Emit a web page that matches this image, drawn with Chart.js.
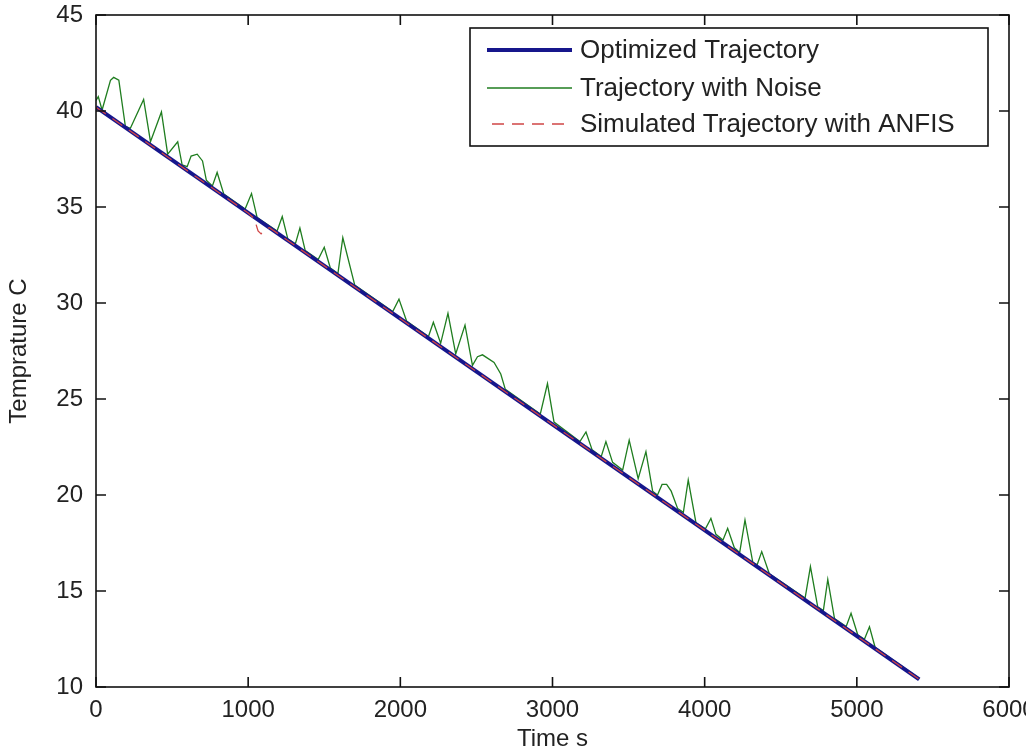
<!DOCTYPE html>
<html>
<head>
<meta charset="utf-8">
<script src="https://cdn.jsdelivr.net/npm/chart.js@4/dist/chart.umd.min.js"></script>
<style>
html, body { margin: 0; padding: 0; background: #fff; overflow: hidden; }
#wrap { width: 1026px; height: 754px; }
</style>
</head>
<body>
<div id="wrap"><canvas id="tChart" width="1026" height="754"></canvas></div>
<script>
// tick values
var xTicks = [0, 1000, 2000, 3000, 4000, 5000, 6000];
var yTicks = [10, 15, 20, 25, 30, 35, 40, 45];

// optimized trajectory (straight line)
var opt_t = [0, 5410];
var opt_T = [40.2, 10.4];

// trajectory with noise
var noise_t = [0, 15, 40, 95, 116, 150, 193, 226, 313, 358, 430, 471, 537, 566,
  599, 625, 665, 700, 725, 765, 796, 840, 980, 1022, 1059, 1190, 1224, 1260,
  1310, 1340, 1375, 1460, 1500, 1540, 1590, 1622, 1700, 1950, 1991, 2041,
  2185, 2217, 2265, 2313, 2364, 2425, 2474, 2507, 2540, 2616, 2660, 2690,
  2920, 2967, 3010, 3180, 3220, 3260, 3320, 3351, 3395, 3461, 3504, 3563,
  3614, 3658, 3690, 3720, 3750, 3780, 3822, 3860, 3892, 3943, 4005, 4041,
  4074, 4120, 4151, 4195, 4230, 4265, 4316, 4345, 4375, 4425, 4660, 4695,
  4743, 4780, 4809, 4853, 4930, 4962, 5006, 5050, 5083, 5120, 5410];
var noise_T = [40.55, 40.75, 40.05, 41.6, 41.75, 41.6, 39.2, 39.1, 40.6, 38.4, 39.95, 37.75, 38.4, 37.2,
  37.1, 37.65, 37.75, 37.4, 36.4, 36.1, 36.8, 35.67, 34.9, 35.7, 34.45, 33.75, 34.5, 33.35,
  33.08, 33.9, 32.73, 32.26, 32.9, 31.82, 31.54, 33.4, 30.94, 29.56, 30.2, 29.06,
  28.26, 29.0, 27.9, 29.46, 27.35, 28.85, 26.75, 27.2, 27.3, 26.9, 26.3, 25.5,
  24.22, 25.8, 23.8, 22.78, 23.28, 22.36, 22.0, 22.78, 21.7, 21.3, 22.86, 20.85,
  22.26, 20.2, 20.0, 20.55, 20.55, 20.2, 19.3, 19.1, 20.78, 18.55, 18.24, 18.78,
  17.95, 17.65, 18.26, 17.25, 17.0, 18.7, 16.5, 16.37, 17.05, 15.9, 14.63, 16.27,
  14.18, 13.98, 15.6, 13.57, 13.15, 13.84, 12.72, 12.49, 13.14, 12.07, 10.45];

// simulated trajectory with ANFIS
var anfis_t = [0, 1000, 1040, 1065, 1085, 1110, 1140, 5410];
var anfis_T = [40.2, 34.69, 34.4, 33.75, 33.6, 33.85, 33.92, 10.4];

var seriesNames = ['Optimized Trajectory', 'Trajectory with Noise', 'Simulated Trajectory with ANFIS'];
var seriesColors = ['#16168c', '#1f7d1f', '#d04545'];

function pts(xs, ys) {
  return xs.map(function (x, i) { return { x: x, y: ys[i] }; });
}

var FONT = 'Liberation Sans, Arial, sans-serif';

// box round the axes, with MATLAB style inward ticks on all four sides
var boxPlugin = {
  id: 'box',
  afterDatasetsDraw: function (chart) {
    var ctx = chart.ctx, a = chart.chartArea;
    var sx = chart.scales.x, sy = chart.scales.y;
    var tl = 10;
    ctx.save();
    ctx.strokeStyle = '#111';
    ctx.lineWidth = 1.6;
    ctx.strokeRect(a.left, a.top, a.right - a.left, a.bottom - a.top);
    ctx.beginPath();
    xTicks.forEach(function (v) {
      var px = sx.getPixelForValue(v);
      ctx.moveTo(px, a.bottom); ctx.lineTo(px, a.bottom - tl);
      ctx.moveTo(px, a.top); ctx.lineTo(px, a.top + tl);
    });
    yTicks.forEach(function (v) {
      var py = sy.getPixelForValue(v);
      ctx.moveTo(a.left, py); ctx.lineTo(a.left + tl, py);
      ctx.moveTo(a.right, py); ctx.lineTo(a.right - tl, py);
    });
    ctx.stroke();
    ctx.restore();
  }
};

// legend drawn inside the axes like the original
var legendPlugin = {
  id: 'boxLegend',
  afterDraw: function (chart) {
    var ctx = chart.ctx;
    var bx = 470, by = 28, bw = 518, bh = 118;
    var rows = [50, 88, 124];
    ctx.save();
    ctx.fillStyle = '#fff';
    ctx.fillRect(bx, by, bw, bh);
    ctx.strokeStyle = '#111';
    ctx.lineWidth = 1.6;
    ctx.strokeRect(bx, by, bw, bh);
    chart.data.datasets.forEach(function (ds, i) {
      var y = rows[i];
      ctx.beginPath();
      ctx.strokeStyle = ds.borderColor;
      ctx.lineWidth = ds.borderWidth;
      ctx.setLineDash(ds.borderDash || []);
      ctx.moveTo(i == 2 ? 492 : 487, y);
      ctx.lineTo(572, y);
      ctx.stroke();
      ctx.setLineDash([]);
      ctx.fillStyle = '#222';
      ctx.font = '26px ' + FONT;
      ctx.textBaseline = 'middle';
      ctx.textAlign = 'left';
      ctx.fillText(ds.label, 580, y + 1);
    });
    ctx.restore();
  }
};

var config = {
  type: 'line',
  data: {
    datasets: [{
      label: seriesNames[0],
      data: pts(opt_t, opt_T),
      borderColor: seriesColors[0],
      borderWidth: 4,
      pointRadius: 0,
      order: 2
    }, {
      label: seriesNames[1],
      data: pts(noise_t, noise_T),
      borderColor: seriesColors[1],
      borderWidth: 1.3,
      pointRadius: 0,
      order: 3
    }, {
      label: seriesNames[2],
      data: pts(anfis_t, anfis_T),
      borderColor: seriesColors[2],
      borderWidth: 1.3,
      borderDash: [12, 8],
      pointRadius: 0,
      order: 1
    }]
  },
  options: {
    responsive: false,
    animation: false,
    layout: { padding: { top: 15, right: 17, left: 0, bottom: 0 } },
    plugins: {
      legend: { display: false },
      tooltip: { enabled: false }
    },
    scales: {
      x: {
        type: 'linear',
        min: 0, max: 6000,
        grid: { display: false, drawTicks: false },
        border: { display: false },
        ticks: {
          stepSize: 1000, autoSkip: false, maxRotation: 0,
          padding: 9, color: '#222',
          font: { family: FONT, size: 24 },
          callback: function (v) { return String(v); }
        },
        title: {
          display: true, text: 'Time s', color: '#222',
          font: { family: FONT, size: 24 },
          padding: { top: 0, bottom: 0 }
        },
        afterFit: function (s) {
          s.paddingLeft = 0; s.paddingRight = 0;
          s.height = 67;
        }
      },
      y: {
        type: 'linear',
        min: 10, max: 45,
        grid: { display: false, drawTicks: false },
        border: { display: false },
        ticks: {
          stepSize: 5, autoSkip: false,
          padding: 13, color: '#222',
          font: { family: FONT, size: 24 },
          callback: function (v) { return String(v); }
        },
        title: {
          display: true, text: 'Temprature C', color: '#222',
          font: { family: FONT, size: 24 },
          padding: { top: 5, bottom: 0 }
        },
        afterFit: function (s) {
          s.paddingTop = 0; s.paddingBottom = 0;
          s.width = 96;
        }
      }
    }
  },
  plugins: [boxPlugin, legendPlugin]
};

var tChart = new Chart(document.getElementById('tChart'), config);
</script>
</body>
</html>
